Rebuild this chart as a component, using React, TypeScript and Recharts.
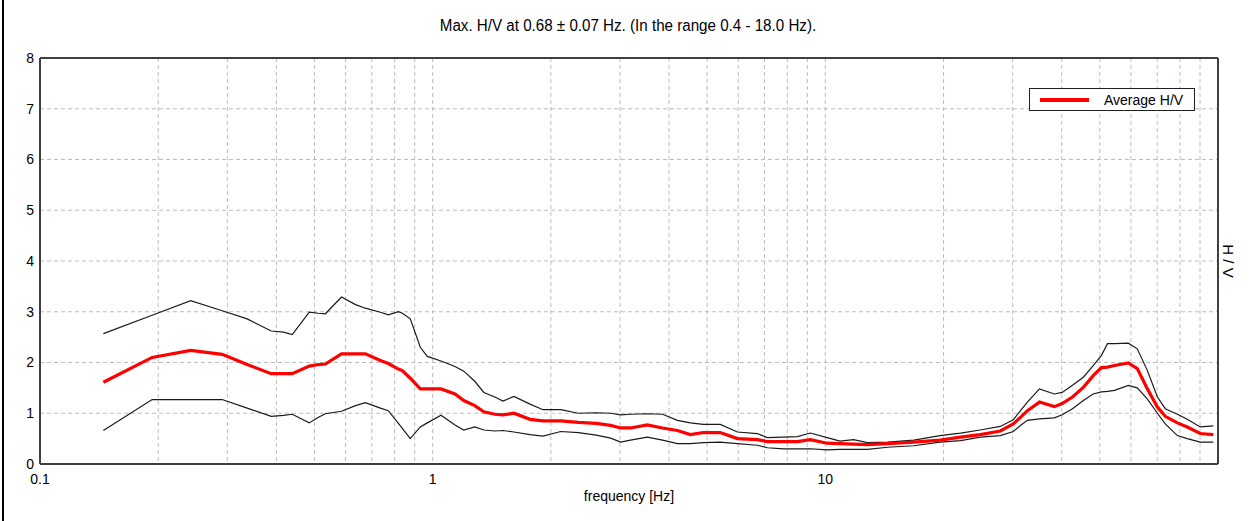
import {
  CartesianGrid,
  Label,
  Legend,
  Line,
  LineChart,
  ReferenceLine,
  XAxis,
  YAxis,
} from "recharts";

const WIDTH = 1253;
const HEIGHT = 521;
const FONT = "'Liberation Sans Narrow', 'Arial Narrow', Arial, sans-serif";
const FRAME = "#404040";
const GRID = "#bdbdbd";

const TITLE = "Max. H/V at 0.68 ± 0.07 Hz. (In the range 0.4 - 18.0 Hz).";

// frequency [Hz]
const FREQ = [
  0.145, 0.193, 0.242, 0.291, 0.337, 0.388, 0.417, 0.439, 0.485, 0.512,
  0.533, 0.586, 0.636, 0.674, 0.736, 0.771, 0.818, 0.837, 0.877, 0.93,
  0.969, 1.05, 1.14, 1.2, 1.28, 1.35, 1.44, 1.51, 1.61, 1.77,
  1.91, 2.12, 2.35, 2.61, 2.84, 3.01, 3.19, 3.52, 3.85, 4.2,
  4.53, 4.89, 5.4, 5.97, 6.71, 7.12, 7.82, 8.49, 9.16, 10.1,
  10.9, 11.8, 12.8, 14.4, 16.8, 19.6, 22.1, 24.8, 27.9, 30.1,
  31.4, 32.7, 35.1, 38.3, 40.1, 42.6, 45.4, 48.1, 50.5, 52.3,
  54.5, 59.1, 62.3, 66.1, 70.1, 73.4, 78.8, 83.5, 90.1, 97.3,
];

const UPPER = [
  2.57, 2.93, 3.22, 3.02, 2.86, 2.62, 2.6, 2.55, 2.99, 2.97,
  2.96, 3.29, 3.14, 3.07, 2.99, 2.94, 3.0, 2.97, 2.86, 2.3,
  2.12, 2.03, 1.92, 1.83, 1.63, 1.41, 1.32, 1.24, 1.33, 1.18,
  1.07, 1.07, 1.0, 1.01, 1.0, 0.97, 0.98, 0.99, 0.98, 0.86,
  0.81, 0.78, 0.78, 0.63, 0.6, 0.52, 0.53, 0.54, 0.61, 0.52,
  0.45, 0.48, 0.42, 0.43, 0.47, 0.56, 0.61, 0.67, 0.74, 0.87,
  1.05, 1.22, 1.48, 1.38, 1.41, 1.55, 1.71, 1.94, 2.14, 2.37,
  2.37, 2.38, 2.27, 1.84, 1.32, 1.09, 0.98, 0.88, 0.73, 0.75,
];

const AVERAGE = [
  1.61, 2.1, 2.24, 2.16, 1.96, 1.78, 1.78, 1.78, 1.93, 1.96,
  1.97, 2.17, 2.17, 2.17, 2.04, 1.98, 1.87, 1.84, 1.69, 1.48,
  1.48, 1.48, 1.38, 1.25, 1.15, 1.03, 0.98, 0.97, 1.0, 0.88,
  0.85, 0.85, 0.82, 0.8, 0.76, 0.71, 0.71, 0.77, 0.71, 0.66,
  0.58, 0.62, 0.62, 0.5, 0.48, 0.44, 0.44, 0.44, 0.48, 0.41,
  0.4, 0.39, 0.38, 0.4, 0.43, 0.47, 0.53, 0.58, 0.65, 0.79,
  0.92, 1.05, 1.22, 1.13, 1.19, 1.32, 1.51, 1.74, 1.9, 1.91,
  1.94, 1.99, 1.88, 1.48, 1.12, 0.94, 0.81, 0.73, 0.6, 0.58,
];

const LOWER = [
  0.66, 1.27, 1.27, 1.27, 1.1, 0.94, 0.96, 0.98, 0.81, 0.92,
  0.99, 1.04, 1.15, 1.21, 1.1, 1.05, 0.8, 0.7, 0.5, 0.73,
  0.81, 0.96, 0.77, 0.67, 0.73, 0.67, 0.65, 0.66, 0.63, 0.58,
  0.55, 0.64, 0.62, 0.57, 0.51, 0.43, 0.47, 0.53, 0.47, 0.4,
  0.4, 0.42, 0.43, 0.4, 0.37, 0.32, 0.3, 0.3, 0.3, 0.28,
  0.29, 0.29, 0.29, 0.33, 0.36, 0.43, 0.46, 0.53, 0.56, 0.64,
  0.76, 0.86, 0.89, 0.91, 0.97, 1.09, 1.25, 1.38, 1.42, 1.43,
  1.45, 1.55, 1.5, 1.28, 1.0, 0.79, 0.56, 0.5, 0.43, 0.43,
];

const X_TICKS = [
  0.1, 0.2, 0.3, 0.4, 0.5, 0.6, 0.7, 0.8, 0.9,
  1, 2, 3, 4, 5, 6, 7, 8, 9,
  10, 20, 30, 40, 50, 60, 70, 80, 90, 100,
];
const X_LABELED = [0.1, 1, 10];
const Y_TICKS = [0, 1, 2, 3, 4, 5, 6, 7, 8];

const rows = FREQ.map((f, i) => ({
  f,
  upper: UPPER[i],
  avg: AVERAGE[i],
  lower: LOWER[i],
}));

function LegendBox() {
  return (
    <div
      style={{
        width: 164,
        height: 21,
        border: "1px solid #202020",
        background: "#fff",
        display: "flex",
        alignItems: "center",
        fontFamily: FONT,
        fontSize: 14,
        color: "#000",
      }}
    >
      <div style={{ width: 49, height: 4, background: "#ff0000", marginLeft: 10, marginRight: 15 }} />
      <span>Average H/V</span>
    </div>
  );
}

export default function App() {
  return (
    <div
      style={{
        position: "absolute",
        left: 0,
        top: 0,
        width: WIDTH,
        height: HEIGHT,
        background: "#fff",
        fontFamily: FONT,
      }}
    >
      <div
        style={{
          position: "absolute",
          left: 2,
          top: 0,
          width: 2,
          height: HEIGHT,
          background: "#000",
        }}
      />
      <div
        style={{
          position: "absolute",
          left: 0,
          top: 17,
          width: 1256,
          textAlign: "center",
          fontSize: 16,
          color: "#000",
          transform: "scaleX(0.947)",
          transformOrigin: "628px 0",
        }}
      >
        {TITLE}
      </div>
      <div
        style={{
          position: "absolute",
          left: 1228,
          top: 261,
          transform: "translate(-50%, -50%) rotate(90deg)",
          fontSize: 15,
          color: "#000",
          whiteSpace: "nowrap",
        }}
      >
        H / V
      </div>
      <LineChart
        width={WIDTH}
        height={HEIGHT}
        data={rows}
        margin={{ top: 58, right: 35, left: 0, bottom: 0 }}
        style={{ fontFamily: FONT }}
      >
        <CartesianGrid stroke={GRID} strokeDasharray="4 3" />
        <XAxis
          dataKey="f"
          type="number"
          scale="log"
          domain={[0.1, 100]}
          allowDataOverflow
          ticks={X_TICKS}
          interval={0}
          height={57}
          tickLine={false}
          tickMargin={4}
          axisLine={{ stroke: FRAME, strokeWidth: 2 }}
          tick={{ fontSize: 14, fill: "#000" }}
          tickFormatter={(v: number) => (X_LABELED.includes(v) ? String(v) : "")}
        >
          <Label
            value="frequency [Hz]"
            position="insideBottom"
            offset={20}
            style={{ fontSize: 14, fill: "#000" }}
          />
        </XAxis>
        <YAxis
          type="number"
          domain={[0, 8]}
          ticks={Y_TICKS}
          interval={0}
          width={40}
          tickLine={false}
          tickMargin={0}
          axisLine={{ stroke: FRAME, strokeWidth: 2 }}
          tick={{ fontSize: 14, fill: "#000" }}
        />
        <ReferenceLine y={8} stroke={FRAME} strokeWidth={2} />
        <ReferenceLine x={100} stroke={FRAME} strokeWidth={2} />
        <Legend
          content={() => <LegendBox />}
          layout="horizontal"
          verticalAlign="middle"
          align="center"
          wrapperStyle={{ left: 1029, top: 88, width: 166, height: 23 }}
        />
        <Line
          dataKey="upper"
          type="linear"
          stroke="#1a1a1a"
          strokeWidth={1.2}
          dot={false}
          activeDot={false}
          isAnimationActive={false}
          legendType="none"
        />
        <Line
          dataKey="lower"
          type="linear"
          stroke="#1a1a1a"
          strokeWidth={1.2}
          dot={false}
          activeDot={false}
          isAnimationActive={false}
          legendType="none"
        />
        <Line
          dataKey="avg"
          type="linear"
          stroke="#ff0000"
          strokeWidth={3.2}
          dot={false}
          activeDot={false}
          isAnimationActive={false}
        />
      </LineChart>
    </div>
  );
}
